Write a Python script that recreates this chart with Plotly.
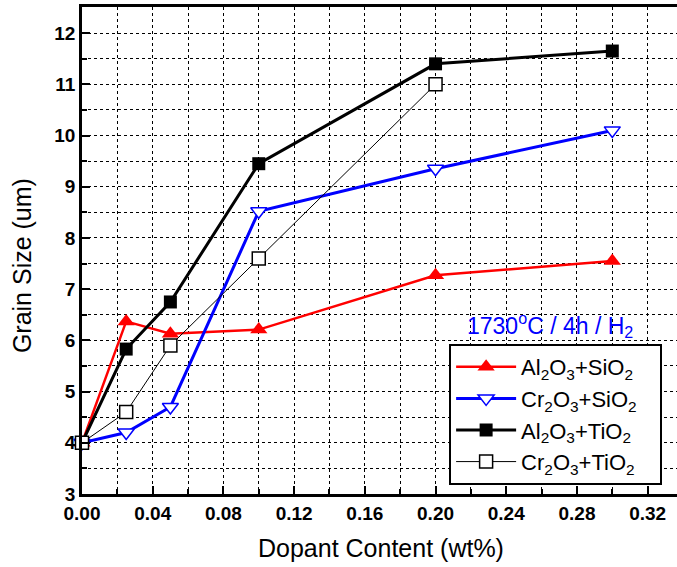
import plotly.graph_objects as go

x_al_si = [0, 0.025, 0.05, 0.1, 0.2, 0.3]
y_al_si = [4.0, 6.37, 6.13, 6.21, 7.27, 7.55]

x_cr_si = [0, 0.025, 0.05, 0.1, 0.2, 0.3]
y_cr_si = [4.0, 4.2, 4.7, 8.52, 9.35, 10.1]

x_al_ti = [0, 0.025, 0.05, 0.1, 0.2, 0.3]
y_al_ti = [4.0, 5.83, 6.75, 9.45, 11.4, 11.65]

x_cr_ti = [0, 0.025, 0.05, 0.1, 0.2]
y_cr_ti = [4.0, 4.6, 5.9, 7.6, 11.0]

PAD = "\u00a0\u00a0\u00a0"
names = ["Al<sub>2</sub>O<sub>3</sub>+SiO<sub>2</sub>" + PAD,
         "Cr<sub>2</sub>O<sub>3</sub>+SiO<sub>2</sub>" + PAD,
         "Al<sub>2</sub>O<sub>3</sub>+TiO<sub>2</sub>" + PAD,
         "Cr<sub>2</sub>O<sub>3</sub>+TiO<sub>2</sub>" + PAD]

tick_vals = [0, 0.04, 0.08, 0.12, 0.16, 0.20, 0.24, 0.28, 0.32]
tick_text = ["0.00", "0.04", "0.08", "0.12", "0.16", "0.20", "0.24", "0.28", "0.32"]

FONT = "Liberation Sans, Arial, sans-serif"

fig = go.Figure()
fig.add_trace(go.Scatter(x=x_al_si, y=y_al_si, name=names[0], mode="lines+markers",
                         line=dict(color="#ff0000", width=2.5),
                         marker=dict(symbol="triangle-up", size=15, color="#ff0000",
                                     line=dict(width=0)),
                         cliponaxis=False))
fig.add_trace(go.Scatter(x=x_cr_si, y=y_cr_si, name=names[1], mode="lines+markers",
                         line=dict(color="#0000ff", width=3),
                         marker=dict(symbol="triangle-down", size=14, color="white",
                                     line=dict(color="#0000ff", width=1.5)),
                         cliponaxis=False))
fig.add_trace(go.Scatter(x=x_al_ti, y=y_al_ti, name=names[2], mode="lines+markers",
                         line=dict(color="black", width=3),
                         marker=dict(symbol="square", size=13, color="black",
                                     line=dict(width=0)),
                         cliponaxis=False))
fig.add_trace(go.Scatter(x=x_cr_ti, y=y_cr_ti, name=names[3], mode="lines+markers",
                         line=dict(color="black", width=1),
                         marker=dict(symbol="square", size=13, color="white",
                                     line=dict(color="black", width=1.5)),
                         cliponaxis=False))

fig.update_xaxes(range=[0, 0.3366], tickvals=tick_vals, ticktext=tick_text,
                 ticks="inside", ticklen=8, tickwidth=2, tickcolor="black",
                 showline=True, linecolor="black", linewidth=2.5, mirror=True,
                 showgrid=True, gridcolor="black", gridwidth=1, griddash="dot",
                 minor=dict(dtick=0.02, tick0=0, ticks="inside", ticklen=5, tickwidth=1.5,
                            tickcolor="black", showgrid=True, gridcolor="black",
                            gridwidth=1, griddash="dot"),
                 tickfont=dict(family=FONT, size=19, color="black", weight="bold"),
                 zeroline=False)
fig.update_yaxes(range=[3, 12.51], dtick=1, tick0=3,
                 ticks="inside", ticklen=8, tickwidth=2, tickcolor="black",
                 showline=True, linecolor="black", linewidth=2.5, mirror=False,
                 showgrid=True, gridcolor="black", gridwidth=1, griddash="dot",
                 minor=dict(dtick=0.5, tick0=3, ticks="inside", ticklen=5, tickwidth=1.5,
                            tickcolor="black", showgrid=True, gridcolor="black",
                            gridwidth=1, griddash="dot"),
                 tickfont=dict(family=FONT, size=19, color="black", weight="bold"),
                 zeroline=False)

fig.update_layout(
    width=677, height=567,
    margin=dict(l=82, r=0, t=7, b=73),
    plot_bgcolor="white", paper_bgcolor="white",
    showlegend=True,
    legend=dict(x=0.617, y=0.0185, xanchor="left", yanchor="bottom",
                bgcolor="white", bordercolor="black", borderwidth=2,
                font=dict(family=FONT, size=22, color="black"),
                itemwidth=60, tracegroupgap=0),
    annotations=[
        dict(text="1730<sup>o</sup>C / 4h / H<sub>2</sub>", x=0.7866, y=0.347,
             xref="paper", yref="paper", xanchor="center", yanchor="middle",
             showarrow=False,
             font=dict(family=FONT, size=23, color="#0000ff")),
        dict(text="Dopant Content (wt%)", x=0.5025, y=-0.111, xref="paper", yref="paper",
             xanchor="center", yanchor="middle",
             showarrow=False, font=dict(family=FONT, size=25, color="black")),
        dict(text="Grain Size (um)", x=-0.1008, y=0.468, xref="paper", yref="paper",
             xanchor="center", yanchor="middle",
             showarrow=False, textangle=-90,
             font=dict(family=FONT, size=25, color="black")),
    ],
)

fig.write_html("out.html")
